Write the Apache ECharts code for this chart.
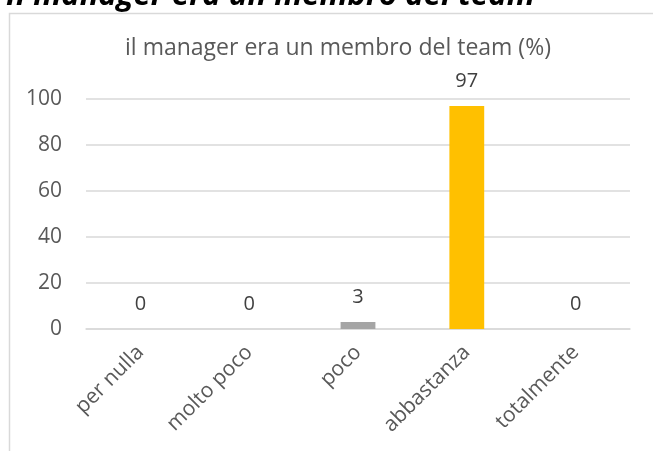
<!DOCTYPE html>
<html><head><meta charset="utf-8">
<script src="https://cdn.jsdelivr.net/npm/echarts@6/dist/echarts.min.js"></script>
<style>html,body{margin:0;padding:0;background:#fff}#c{width:653px;height:451px}</style>
</head><body><div id="c"></div>
<script>
const categories = ['per nulla', 'molto poco', 'poco', 'abbastanza', 'totalmente'];
const values = [0, 0, 3, 97, 0];
const barColors = ['#a5a5a5', '#a5a5a5', '#a5a5a5', '#ffc000', '#a5a5a5'];
const yTicks = [0, 20, 40, 60, 80, 100];

const chart = echarts.init(document.getElementById('c'), null, {renderer: 'canvas'});
chart.setOption({
  animation: false,
  graphic: [
    {type: 'rect', shape: {x: 9.5, y: 13.5, width: 700, height: 500}, style: {fill: 'none', stroke: '#d9d9d9', lineWidth: 1.5}, z: -1},
    {type: 'text', x: 6, y: 12, style: {text: 'Il manager era un membro del team', fontFamily: 'Open Sans', fontStyle: 'italic', fontWeight: 'bold', fontSize: 31, fill: '#000', verticalAlign: 'bottom'}}
  ],
  title: {
    text: 'il manager era un membro del team (%)',
    left: 333, top: 32, textAlign: 'center',
    textStyle: {fontFamily: 'Open Sans', fontWeight: 'normal', fontSize: 23, color: '#595959'}
  },
  grid: {left: 86, right: 23, top: 99, bottom: 122, containLabel: false},
  xAxis: {
    type: 'category', data: categories,
    axisLine: {show: true, lineStyle: {color: '#d9d9d9', width: 1.5}},
    axisTick: {show: false},
    axisLabel: {rotate: 45, margin: 20, fontFamily: 'Open Sans', fontSize: 21, color: '#595959', interval: 0}
  },
  yAxis: {
    type: 'value', min: yTicks[0], max: yTicks[yTicks.length - 1], interval: 20,
    axisLine: {show: false}, axisTick: {show: false},
    splitLine: {lineStyle: {color: '#d9d9d9', width: 1.5}},
    axisLabel: {margin: 24, fontFamily: 'Open Sans', fontSize: 21, color: '#595959'}
  },
  series: [{
    type: 'bar', barWidth: '32%',
    data: values.map((v, i) => ({value: v, itemStyle: {color: barColors[i]}})),
    label: {show: true, position: 'top', distance: 15, fontFamily: 'Open Sans', fontSize: 20, color: '#404040'}
  }]
});
</script></body></html>
